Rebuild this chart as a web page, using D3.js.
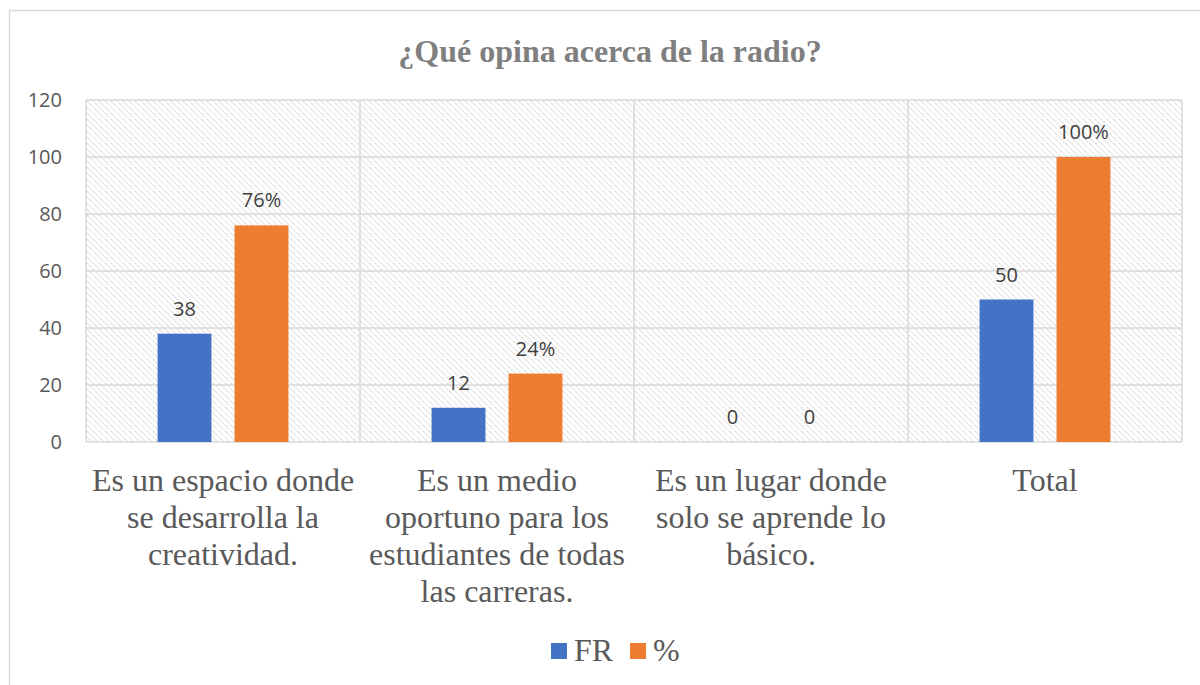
<!DOCTYPE html>
<html>
<head>
<meta charset="utf-8">
<script src="https://cdn.jsdelivr.net/npm/d3@7"></script>
<style>
  body { margin: 0; background: #fff; }
</style>
</head>
<body>
<div id="chart-container"></div>
<script>
// Chart data
const title = "¿Qué opina acerca de la radio?";
const categories = [
    ["Es un espacio donde", "se desarrolla la", "creatividad."],
    ["Es un medio", "oportuno para los", "estudiantes de todas", "las carreras."],
    ["Es un lugar donde", "solo se aprende lo", "básico."],
    ["Total"]
];
const seriesNames = ["FR", "%"];
const frValues = [38, 12, 0, 50];
const pctValues = [76, 24, 0, 100];
const frLabels = ["38", "12", "0", "50"];
const pctLabels = ["76%", "24%", "0", "100%"];
const yTicks = [0, 20, 40, 60, 80, 100, 120];
const colors = ["#4472C4", "#ED7D31"];

const width = 1200;
const height = 685;
const margin = { top: 100, right: 18, bottom: 243, left: 86 };
const innerW = width - margin.left - margin.right;
const innerH = height - margin.top - margin.bottom;

const svg = d3.select("#chart-container")
    .append("svg")
    .attr("width", width)
    .attr("height", height);

// Hatch pattern for the plot area
const defs = svg.append("defs");
const pattern = defs.append("pattern")
    .attr("id", "hatch")
    .attr("patternUnits", "userSpaceOnUse")
    .attr("width", 6)
    .attr("height", 6);
pattern.append("path")
    .attr("d", "M-1,-1 L7,7 M-1,5 L1,7 M5,-1 L7,1")
    .attr("stroke", "#d6d6d6")
    .attr("stroke-width", 1.2)
    .attr("stroke-dasharray", "2,1");

// Outer border
svg.append("rect")
    .attr("x", 9.5)
    .attr("y", 10.5)
    .attr("width", 1200)
    .attr("height", 700)
    .attr("fill", "none")
    .attr("stroke", "#d9d9d9")
    .attr("stroke-width", 1.5);

// Title
svg.append("text")
    .attr("x", 610)
    .attr("y", 62)
    .attr("text-anchor", "middle")
    .attr("font-family", "'Liberation Serif', 'Times New Roman', serif")
    .attr("font-weight", "bold")
    .attr("font-size", 32)
    .attr("fill", "#7f7f7f")
    .text(title);

const g = svg.append("g")
    .attr("transform", `translate(${margin.left},${margin.top})`);

const idx = d3.range(categories.length);
const x0 = d3.scaleBand().domain(idx).range([0, innerW]).padding(0);
const x1 = d3.scaleBand().domain(seriesNames).range([0, x0.bandwidth()])
    .paddingInner(0.3).paddingOuter(0.93);
const y = d3.scaleLinear().domain([0, 120]).range([innerH, 0]);

// Plot background
g.append("rect")
    .attr("width", innerW)
    .attr("height", innerH)
    .attr("fill", "url(#hatch)");

// Horizontal gridlines
g.append("g")
    .selectAll("line")
    .data(yTicks)
    .enter().append("line")
    .attr("x1", 0)
    .attr("x2", innerW)
    .attr("y1", d => y(d))
    .attr("y2", d => y(d))
    .attr("stroke", "#d9d9d9")
    .attr("stroke-width", 1.5);

// Vertical gridlines at category boundaries
g.append("g")
    .selectAll("line")
    .data(d3.range(categories.length + 1))
    .enter().append("line")
    .attr("x1", d => d < categories.length ? x0(d) : innerW)
    .attr("x2", d => d < categories.length ? x0(d) : innerW)
    .attr("y1", 0)
    .attr("y2", innerH)
    .attr("stroke", "#d9d9d9")
    .attr("stroke-width", 1.5);

// Y axis labels
const yAxis = g.append("g")
    .call(d3.axisLeft(y).tickValues(yTicks).tickSize(0).tickPadding(24));
yAxis.select(".domain").remove();
yAxis.selectAll("text")
    .attr("font-family", "'Open Sans', sans-serif")
    .attr("font-size", 20)
    .attr("fill", "#595959");

// Bars
const seriesData = [
    { name: seriesNames[0], values: frValues, labels: frLabels, color: colors[0] },
    { name: seriesNames[1], values: pctValues, labels: pctLabels, color: colors[1] }
];

seriesData.forEach((s, si) => {
    const sg = g.append("g").attr("class", "series-" + si);

    sg.selectAll("rect")
        .data(idx)
        .enter().append("rect")
        .attr("x", i => x0(i) + x1(s.name))
        .attr("y", i => y(s.values[i]))
        .attr("width", x1.bandwidth())
        .attr("height", i => innerH - y(s.values[i]))
        .attr("fill", s.color);

    sg.selectAll("text")
        .data(idx)
        .enter().append("text")
        .attr("x", i => x0(i) + x1(s.name) + x1.bandwidth() / 2)
        .attr("y", i => y(s.values[i]) - 18)
        .attr("text-anchor", "middle")
        .attr("font-family", "'Open Sans', sans-serif")
        .attr("font-size", 20)
        .attr("fill", "#404040")
        .text(i => s.labels[i]);
});

// Category labels
const catG = g.append("g");
idx.forEach(i => {
    const t = catG.append("text")
        .attr("x", x0(i) + x0.bandwidth() / 2)
        .attr("y", innerH + 49)
        .attr("text-anchor", "middle")
        .attr("font-family", "'Liberation Serif', 'Times New Roman', serif")
        .attr("font-size", 32)
        .attr("fill", "#595959");
    categories[i].forEach((line, j) => {
        t.append("tspan")
            .attr("x", x0(i) + x0.bandwidth() / 2)
            .attr("dy", j === 0 ? 0 : 37)
            .text(line);
    });
});

// Legend
const legend = svg.append("g");
const legendItems = [
    { name: seriesNames[0], color: colors[0], x: 551 },
    { name: seriesNames[1], color: colors[1], x: 630 }
];
legendItems.forEach(d => {
    legend.append("rect")
        .attr("x", d.x)
        .attr("y", 643)
        .attr("width", 16)
        .attr("height", 16)
        .attr("fill", d.color);
    legend.append("text")
        .attr("x", d.x + 23)
        .attr("y", 661)
        .attr("font-family", "'Liberation Serif', 'Times New Roman', serif")
        .attr("font-size", 32)
        .attr("fill", "#595959")
        .text(d.name);
});
</script>
</body>
</html>
